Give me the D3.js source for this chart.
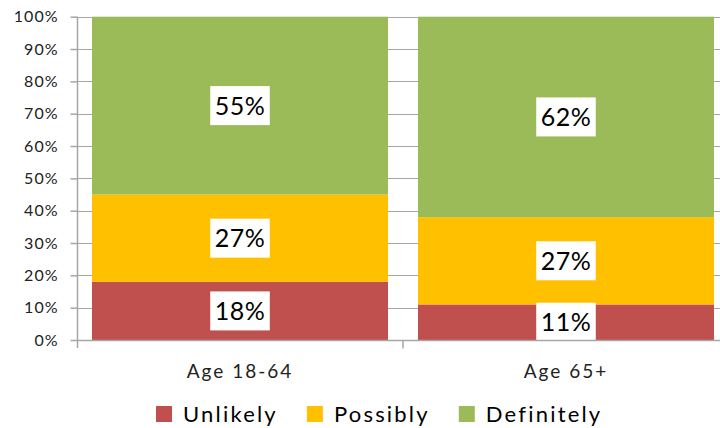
<!DOCTYPE html>
<html>
<head>
<meta charset="utf-8">
<script src="https://cdn.jsdelivr.net/npm/d3@7"></script>
<style>
  html, body { margin: 0; padding: 0; background: #fff; }
  svg { display: block; font-family: Lato, "Open Sans", sans-serif; }
</style>
</head>
<body>
<svg id="chart" width="720" height="428"></svg>
<script>
const categories = ["Age 18-64", "Age 65+"];
const seriesNames = ["Unlikely", "Possibly", "Definitely"];
const unlikely = [18, 11];
const possibly = [27, 27];
const definitely = [55, 62];
const yTicks = [0, 10, 20, 30, 40, 50, 60, 70, 80, 90, 100];
const colors = ["#C0504D", "#FFC000", "#9BBB59"];

(function () {
const table = categories.map((c, i) => ({
  category: c, Unlikely: unlikely[i], Possibly: possibly[i], Definitely: definitely[i]
}));

const svg = d3.select("#chart");
const mLeft = 77, mRight = 729, mTop = 16.7, mBottom = 340;

const x = d3.scaleBand().domain(categories).range([mLeft, mRight])
  .paddingInner(0.092).paddingOuter(0.046);
const y = d3.scaleLinear().domain([0, 100]).range([mBottom, mTop]);

// gridlines
svg.append("g").selectAll("line").data(yTicks.filter(d => d > 0)).join("line")
  .attr("x1", mLeft).attr("x2", 720)
  .attr("y1", d => Math.round(y(d)) + 0.5).attr("y2", d => Math.round(y(d)) + 0.5)
  .attr("stroke", "#A6A6A6").attr("stroke-width", 1.2);

// stacks
const stack = d3.stack().keys(seriesNames)(table);
const layers = svg.append("g").selectAll("g").data(stack).join("g")
  .attr("fill", (d, i) => colors[i]);
layers.selectAll("rect").data(d => d).join("rect")
  .attr("x", d => x(d.data.category))
  .attr("width", x.bandwidth())
  .attr("y", d => y(d[1]))
  .attr("height", d => y(d[0]) - y(d[1]));

// y axis
const yAxis = d3.axisLeft(y).tickValues(yTicks).tickFormat(d => d + "%").tickSize(7).tickPadding(12);
const ya = svg.append("g").attr("transform", `translate(${mLeft + 0.5},0)`).call(yAxis);
ya.select(".domain").attr("stroke", "#A6A6A6").attr("stroke-width", 1.5).attr("d", `M0,${mTop}V${mBottom + 8}`);
ya.selectAll(".tick line").attr("stroke", "#A6A6A6").attr("stroke-width", 1.5);
ya.selectAll(".tick text").attr("font-family", "Lato").attr("font-size", 16)
  .attr("letter-spacing", 1).attr("fill", "#222");

// x axis
const xa = svg.append("g").attr("transform", `translate(0,${mBottom + 0.5})`);
const boundaries = [x(categories[1]) - x.step() * x.paddingInner() / 2];
xa.selectAll("line.tk").data(boundaries).join("line").attr("class", "tk")
  .attr("x1", d => d).attr("x2", d => d).attr("y1", 0).attr("y2", 8)
  .attr("stroke", "#A6A6A6").attr("stroke-width", 1.5);
xa.selectAll("text").data(categories).join("text")
  .attr("x", d => x(d) + x.bandwidth() / 2).attr("y", 37)
  .attr("text-anchor", "middle").attr("font-size", 19).attr("letter-spacing", 2)
  .attr("fill", "#222").text(d => d);

// data labels
const labels = svg.append("g");
stack.forEach((layer) => {
  layer.forEach(d => {
    const cx = x(d.data.category) + x.bandwidth() / 2;
    const cy = (y(d[0]) + y(d[1])) / 2;
    const g = labels.append("g");
    const t = g.append("text").attr("x", cx).attr("y", cy + 9)
      .attr("text-anchor", "middle").attr("font-size", 25).attr("letter-spacing", 0.5)
      .attr("fill", "#000")
      .text((d[1] - d[0]) + "%");
    const w = t.node().getComputedTextLength() + 9;
    g.insert("rect", "text").attr("x", cx - w / 2).attr("y", cy - 19.5)
      .attr("width", w).attr("height", 39).attr("fill", "#fff");
  });
});
// x axis line over labels
svg.append("line").attr("x1", mLeft).attr("x2", 720).attr("y1", mBottom + 0.5).attr("y2", mBottom + 0.5)
  .attr("stroke", "#A6A6A6").attr("stroke-width", 1.5);

// legend
const legend = svg.append("g");
let lx = 156;
seriesNames.forEach((s, i) => {
  legend.append("rect").attr("x", lx).attr("y", 406).attr("width", 16).attr("height", 16).attr("fill", colors[i]);
  const t = legend.append("text").attr("x", lx + 27).attr("y", 421.5)
    .attr("font-size", 22).attr("letter-spacing", 2.2).attr("fill", "#000").text(s);
  lx += 27 + t.node().getComputedTextLength() + 29;
});
})();
</script>
</body>
</html>
